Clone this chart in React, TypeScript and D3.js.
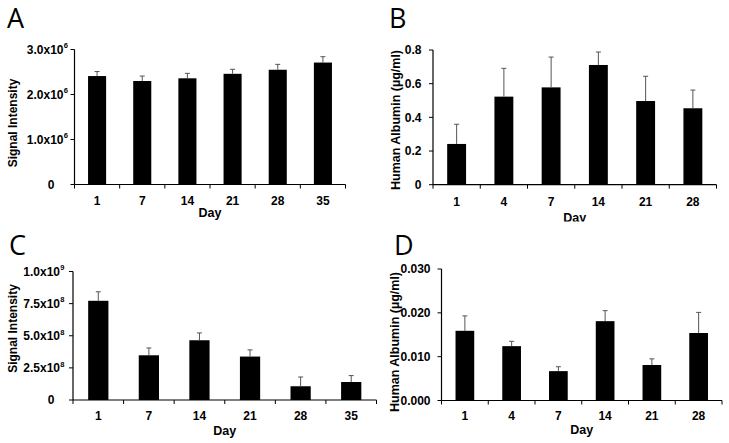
import React from "react";
import * as d3 from "d3";

// ---------- data ----------
const daysA = ["1", "7", "14", "21", "28", "35"];
const valuesA = [2.41e6, 2.30e6, 2.36e6, 2.46e6, 2.55e6, 2.71e6];
const errorsA = [0.10e6, 0.11e6, 0.11e6, 0.10e6, 0.12e6, 0.13e6];
const ticksA = [0, 1e6, 2e6, 3e6];
const tickLabelsA = ["0", "1.0x10^6", "2.0x10^6", "3.0x10^6"];

const daysB = ["1", "4", "7", "14", "21", "28"];
const valuesB = [0.242, 0.523, 0.578, 0.711, 0.497, 0.454];
const errorsB = [0.117, 0.168, 0.18, 0.077, 0.147, 0.108];
const ticksB = [0, 0.2, 0.4, 0.6, 0.8];
const tickLabelsB = ["0", "0.2", "0.4", "0.6", "0.8"];

const daysC = ["1", "7", "14", "21", "28", "35"];
const valuesC = [7.72e8, 3.48e8, 4.65e8, 3.38e8, 1.07e8, 1.4e8];
const errorsC = [0.70e8, 0.57e8, 0.57e8, 0.52e8, 0.72e8, 0.50e8];
const ticksC = [0, 2.5e8, 5e8, 7.5e8, 1e9];
const tickLabelsC = ["0", "2.5x10^8", "5.0x10^8", "7.5x10^8", "1.0x10^9"];

const daysD = ["1", "4", "7", "14", "21", "28"];
const valuesD = [0.0159, 0.0124, 0.0067, 0.0181, 0.0081, 0.0154];
const errorsD = [0.0034, 0.0011, 0.001, 0.0024, 0.0014, 0.0047];
const ticksD = [0, 0.01, 0.02, 0.03];
const tickLabelsD = ["0.000", "0.010", "0.020", "0.030"];

const FONT = "'Liberation Sans', Arial, Helvetica, sans-serif";

type PanelProps = {
  letter: string;
  letterX: number;
  letterY: number;
  days: string[];
  values: number[];
  errors: number[];
  ticks: number[];
  tickLabels: string[];
  yTitle: string;
  yTitleX: number;
  yTitleY: number;
  yTitleSize: number;
  x0: number;
  x1: number;
  y0: number;
  y1: number;
  labelGap: number;
  zeroGap: number;
  tickLabelBase: number;
  dayBase: number;
  clipBottom?: number;
  id: string;
};

function Panel(p: PanelProps) {
  const x = d3
    .scaleBand<string>()
    .domain(p.days)
    .range([p.x0, p.x1])
    .paddingInner(0.6)
    .paddingOuter(0.3);
  const maxV = p.ticks[p.ticks.length - 1];
  const y = d3.scaleLinear().domain([0, maxV]).range([p.y0, p.y1]);
  const step = x.step();
  const capW = 2.5;
  const content = (
    <g>
      {p.days.map((d, i) => (
        <rect
          key={"b" + i}
          x={x(d)!}
          y={y(p.values[i])}
          width={x.bandwidth()}
          height={y(0) - y(p.values[i])}
          fill="#000"
        />
      ))}
      {p.days.map((d, i) => {
        const cx = x(d)! + x.bandwidth() / 2;
        const top = y(p.values[i] + p.errors[i]);
        return (
          <g key={"e" + i} stroke="#555" strokeWidth={1}>
            <line x1={cx} x2={cx} y1={y(p.values[i])} y2={top} />
            <line x1={cx - capW} x2={cx + capW} y1={top} y2={top} />
          </g>
        );
      })}
      <line x1={p.x0} x2={p.x0} y1={p.y0} y2={y(maxV)} stroke="#000" strokeWidth={1.2} />
      {p.ticks.map((t, i) => {
        const ty = y(t);
        const parts = p.tickLabels[i].split("^");
        const gap = t === 0 ? p.zeroGap : p.labelGap;
        return (
          <g key={"yt" + i}>
            <line x1={p.x0 - 4} x2={p.x0} y1={ty} y2={ty} stroke="#000" strokeWidth={1} />
            <text
              x={p.x0 - gap}
              y={ty + 4.3}
              textAnchor="end"
              fontFamily={FONT}
              fontWeight="bold"
              fontSize={12}
              fill="#000"
            >
              <tspan>{parts[0]}</tspan>
              {parts[1] && (
                <tspan fontSize={7.5} dy={-5.5} dx={0.3}>
                  {parts[1]}
                </tspan>
              )}
            </text>
          </g>
        );
      })}
      <line x1={p.x0} x2={p.x1} y1={p.y0} y2={p.y0} stroke="#000" strokeWidth={1.2} />
      {d3.range(p.days.length + 1).map((i) => (
        <line
          key={"xt" + i}
          x1={p.x0 + i * step}
          x2={p.x0 + i * step}
          y1={p.y0}
          y2={p.y0 + 4}
          stroke="#000"
          strokeWidth={1}
        />
      ))}
      {p.days.map((d, i) => (
        <text
          key={"xl" + i}
          x={x(d)! + x.bandwidth() / 2}
          y={p.tickLabelBase}
          textAnchor="middle"
          fontFamily={FONT}
          fontWeight="bold"
          fontSize={12}
          fill="#000"
        >
          {d}
        </text>
      ))}
      <text
        x={(p.x0 + p.x1) / 2}
        y={p.dayBase}
        textAnchor="middle"
        fontFamily={FONT}
        fontWeight="bold"
        fontSize={12.5}
        fill="#000"
      >
        Day
      </text>
      <text
        transform={`translate(${p.yTitleX},${p.yTitleY}) rotate(-90)`}
        textAnchor="middle"
        dy="0.36em"
        fontFamily={FONT}
        fontWeight="bold"
        fontSize={p.yTitleSize}
        fill="#000"
      >
        {p.yTitle}
      </text>
    </g>
  );
  const letter = (
    <text
      x={p.letterX}
      y={p.letterY}
      fontFamily="'Open Sans', 'Liberation Sans', sans-serif"
      fontSize={27}
      fill="#000"
    >
      {p.letter}
    </text>
  );
  if (p.clipBottom !== undefined) {
    return (
      <g>
        <defs>
          <clipPath id={p.id}>
            <rect x={0} y={30} width={729} height={p.clipBottom - 30} />
          </clipPath>
        </defs>
        <g clipPath={`url(#${p.id})`}>{content}</g>
        {letter}
      </g>
    );
  }
  return (
    <g>
      {content}
      {letter}
    </g>
  );
}

export default function App() {
  return (
    <svg
      width={729}
      height={443}
      style={{ position: "absolute", left: 0, top: 0, background: "#fff" }}
    >
      <rect x={0} y={0} width={729} height={443} fill="#fff" />
      <Panel
        id="pa"
        letter="A"
        letterX={7}
        letterY={27.5}
        days={daysA}
        values={valuesA}
        errors={errorsA}
        ticks={ticksA}
        tickLabels={tickLabelsA}
        yTitle="Signal Intensity"
        yTitleX={13}
        yTitleY={123}
        yTitleSize={12}
        x0={74.5}
        x1={345.5}
        y0={184.5}
        y1={49.5}
        labelGap={6.5}
        zeroGap={20}
        tickLabelBase={204.5}
        dayBase={217}
      />
      <Panel
        id="pb"
        letter="B"
        letterX={389}
        letterY={27.5}
        days={daysB}
        values={valuesB}
        errors={errorsB}
        ticks={ticksB}
        tickLabels={tickLabelsB}
        yTitle="Human Albumin  (µg/ml)"
        yTitleX={395}
        yTitleY={120}
        yTitleSize={12.5}
        x0={433}
        x1={716.5}
        y0={184.7}
        y1={50}
        labelGap={11.5}
        zeroGap={11.5}
        tickLabelBase={206}
        dayBase={222}
        clipBottom={221.5}
      />
      <Panel
        id="pc"
        letter="C"
        letterX={9}
        letterY={255}
        days={daysC}
        values={valuesC}
        errors={errorsC}
        ticks={ticksC}
        tickLabels={tickLabelsC}
        yTitle="Signal Intensity"
        yTitleX={13}
        yTitleY={328.5}
        yTitleSize={12}
        x0={73}
        x1={376.5}
        y0={400}
        y1={271.5}
        labelGap={8.5}
        zeroGap={18.5}
        tickLabelBase={419.5}
        dayBase={434.5}
      />
      <Panel
        id="pd"
        letter="D"
        letterX={394}
        letterY={255}
        days={daysD}
        values={valuesD}
        errors={errorsD}
        ticks={ticksD}
        tickLabels={tickLabelsD}
        yTitle="Human Albumin  (µg/ml)"
        yTitleX={394.5}
        yTitleY={342}
        yTitleSize={12.5}
        x0={441.5}
        x1={722}
        y0={400.5}
        y1={269}
        labelGap={11}
        zeroGap={11}
        tickLabelBase={420.3}
        dayBase={433.8}
      />
    </svg>
  );
}
